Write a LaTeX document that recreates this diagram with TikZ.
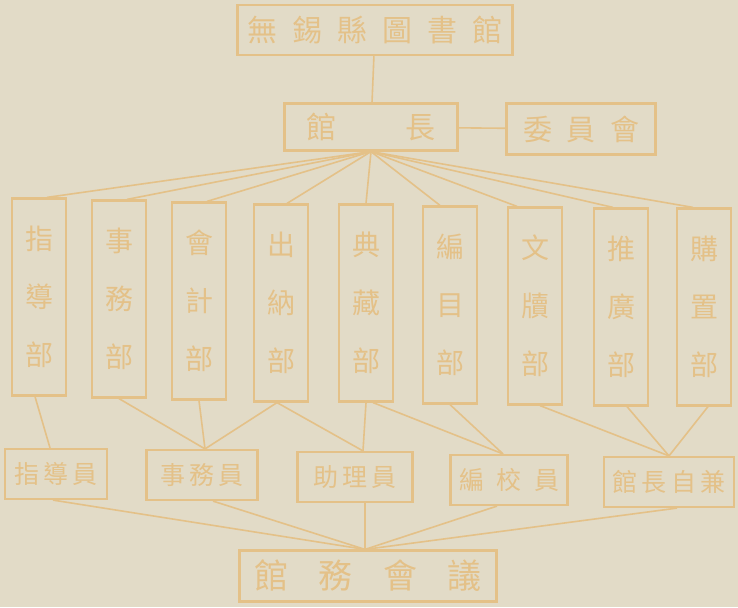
\documentclass[tikz,border=0pt]{standalone}
\usepackage{fontspec}
\newfontfamily\cjk{Noto Sans CJK TC}
\usetikzlibrary{calc}
\definecolor{paper}{RGB}{226,219,199}
\definecolor{ink}{RGB}{228,193,136}

\begin{document}
\begin{tikzpicture}[x=1pt,y=-1pt,
	box/.style={draw=ink,line width=2.2pt,inner sep=0pt,text=ink},
	dept/.style={box,minimum width=54,minimum height=197,align=center,font=\cjk\fontsize{28}{58}\selectfont},
	staff/.style={box,minimum height=50,font=\cjk\fontsize{25}{25}\selectfont},
	link/.style={draw=ink,line width=1.6pt}]
	
	\fill[paper] (0,0) rectangle (738,607);
	\useasboundingbox (0,0) rectangle (738,607);
	
	% top of the chart
	\node[box,minimum width=275,minimum height=50,font=\cjk\fontsize{30}{30}\selectfont] (library) at (375,30) {無\enspace 錫\enspace 縣\enspace 圖\enspace 書\enspace 館};
	\node[box,minimum width=173,minimum height=47,font=\cjk\fontsize{30}{30}\selectfont] (director) at (371,127) {館\hspace{2.3em}長};
	\node[box,minimum width=149,minimum height=51,font=\cjk\fontsize{29}{29}\selectfont] (committee) at (581,129) {委\enspace 員\enspace 會};
	
	% departments
	\node[dept] (d1) at (39,297) {指\\導\\部};
	\node[dept] (d2) at (119,299) {事\\務\\部};
	\node[dept] (d3) at (199,301) {會\\計\\部};
	\node[dept] (d4) at (281,303) {出\\納\\部};
	\node[dept] (d5) at (366,303) {典\\藏\\部};
	\node[dept] (d6) at (450,305) {編\\目\\部};
	\node[dept] (d7) at (535,306) {文\\牘\\部};
	\node[dept] (d8) at (621,307) {推\\廣\\部};
	\node[dept] (d9) at (704,307) {購\\置\\部};
	
	% staff
	\node[staff,minimum width=102] (s1) at (56,474) {指\,導\,員};
	\node[staff,minimum width=111] (s2) at (202,475) {事\,務\,員};
	\node[staff,minimum width=115] (s3) at (355,477) {助\,理\,員};
	\node[staff,minimum width=117] (s4) at (509,480) {編\enspace 校\enspace 員};
	\node[staff,minimum width=130] (s5) at (669,482) {館\,長\,自\,兼};
	
	\node[box,minimum width=257,minimum height=51,font=\cjk\fontsize{34}{34}\selectfont] (meeting) at (368,576) {館\hspace{0.9em}務\hspace{0.9em}會\hspace{0.9em}議};
	
	\draw[link] (library) -- (director);
	\draw[link] (director) -- (committee);
	
	\draw[link] (director.south) -- ([xshift=8]d1.north);
	\draw[link] (director.south) -- ([xshift=8]d2.north);
	\draw[link] (director.south) -- ([xshift=8]d3.north);
	\draw[link] (director.south) -- ([xshift=6]d4.north);
	\draw[link] (director.south) -- (d5.north);
	\draw[link] (director.south) -- ([xshift=-10]d6.north);
	\draw[link] (director.south) -- ([xshift=-18]d7.north);
	\draw[link] (director.south) -- ([xshift=-8]d8.north);
	\draw[link] (director.south) -- ([xshift=-11]d9.north);
	
	\draw[link] ([xshift=-4]d1.south) -- ([xshift=-6]s1.north);
	\draw[link] (d2.south) -- ([xshift=3]s2.north);
	\draw[link] (d3.south) -- ([xshift=3]s2.north);
	\draw[link] ([xshift=-4]d4.south) -- ([xshift=3]s2.north);
	\draw[link] ([xshift=-4]d4.south) -- ([xshift=8]s3.north);
	\draw[link] (d5.south) -- ([xshift=8]s3.north);
	\draw[link] ([xshift=7]d5.south) -- ([xshift=-6]s4.north);
	\draw[link] (d6.south) -- ([xshift=-6]s4.north);
	\draw[link] ([xshift=5]d7.south) -- (s5.north);
	\draw[link] ([xshift=6]d8.south) -- (s5.north);
	\draw[link] ([xshift=4]d9.south) -- (s5.north);
	
	\draw[link] ([xshift=-3]s1.south) -- ([xshift=-3]meeting.north);
	\draw[link] ([xshift=11]s2.south) -- ([xshift=-3]meeting.north);
	\draw[link] ([xshift=10]s3.south) -- ([xshift=-3]meeting.north);
	\draw[link] ([xshift=-12]s4.south) -- ([xshift=-3]meeting.north);
	\draw[link] ([xshift=8]s5.south) -- ([xshift=-3]meeting.north);
\end{tikzpicture}
\end{document}
